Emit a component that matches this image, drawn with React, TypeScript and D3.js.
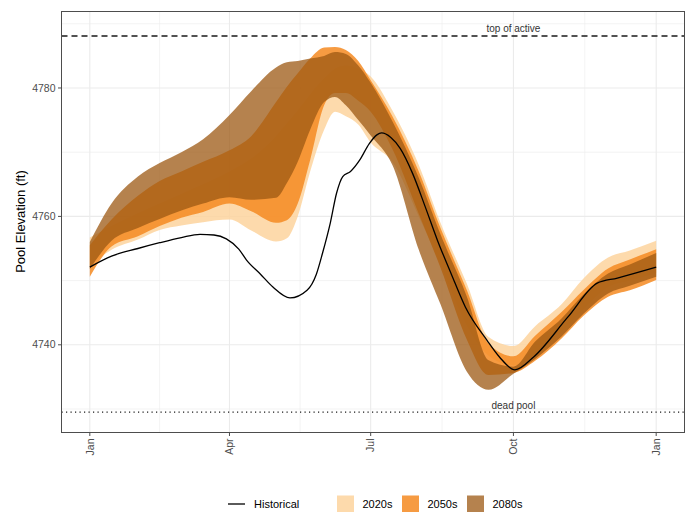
import React from 'react';
import * as d3 from 'd3';

// day-of-year sample points used by the projection ribbons
const bandDays = [0, 14, 31, 45, 59, 73, 90, 104, 120, 127, 134, 142, 151, 158, 165, 173, 181, 195, 212, 226, 243, 257, 273, 287, 304, 318, 334, 348, 365];

const lo2020 = [4752.3, 4754.8, 4756.4, 4757.9, 4758.6, 4759.1, 4759.5, 4757.8, 4756.1, 4756.6, 4760.0, 4767.0, 4773.5, 4776.3, 4775.6, 4774.3, 4771.5, 4768.5, 4760.0, 4752.5, 4743.0, 4738.3, 4736.8, 4738.5, 4742.0, 4745.5, 4749.0, 4750.0, 4751.2];
const hi2020 = [4756.7, 4758.5, 4760.5, 4762.0, 4763.5, 4765.0, 4767.0, 4769.0, 4772.5, 4774.5, 4776.5, 4779.0, 4781.5, 4783.0, 4783.5, 4783.0, 4781.8, 4776.5, 4768.0, 4759.0, 4749.5, 4741.2, 4739.8, 4742.9, 4746.3, 4750.3, 4753.6, 4754.7, 4756.2];

const lo2050 = [4750.6, 4755.3, 4756.9, 4758.5, 4759.8, 4760.7, 4762.0, 4760.8, 4759.0, 4759.4, 4762.0, 4768.8, 4777.3, 4779.2, 4779.2, 4778.0, 4776.3, 4770.5, 4760.4, 4752.0, 4740.8, 4735.3, 4735.6, 4737.5, 4741.0, 4744.5, 4747.5, 4748.5, 4750.1];
const hi2050 = [4755.5, 4759.5, 4763.2, 4765.5, 4767.0, 4768.5, 4770.3, 4772.5, 4777.8, 4780.2, 4782.3, 4784.6, 4786.3, 4786.4, 4785.9, 4784.2, 4781.2, 4775.6, 4767.0, 4758.2, 4748.5, 4740.2, 4738.2, 4741.4, 4745.1, 4748.5, 4751.9, 4753.3, 4754.9];

const lo2080 = [4751.8, 4756.2, 4758.2, 4759.6, 4760.9, 4762.0, 4763.0, 4762.6, 4762.9, 4765.2, 4768.5, 4773.5, 4777.8, 4778.6, 4777.3, 4775.0, 4772.6, 4768.0, 4754.8, 4746.3, 4735.8, 4733.0, 4735.5, 4737.8, 4741.3, 4744.8, 4748.0, 4749.2, 4750.6];
const hi2080 = [4756.0, 4762.0, 4766.2, 4768.3, 4770.0, 4772.0, 4775.8, 4779.5, 4783.2, 4784.0, 4784.2, 4784.6, 4785.0, 4785.6, 4785.3, 4783.5, 4780.8, 4774.8, 4766.0, 4757.2, 4747.5, 4737.6, 4736.6, 4740.5, 4744.1, 4747.8, 4751.1, 4752.5, 4754.3];

// historical trace
const histDays = [0, 14, 31, 45, 59, 71, 80, 88, 96, 101, 110, 118, 129, 140, 146, 150, 155, 159, 163, 168, 174, 180, 185, 188, 194, 200, 208, 216, 224, 233, 242, 256, 264, 274, 286, 308, 327, 340, 365];
const histVals = [4752.1, 4753.8, 4755.0, 4755.9, 4756.7, 4757.2, 4757.1, 4756.5, 4754.9, 4753.2, 4751.0, 4749.0, 4747.3, 4748.5, 4751.0, 4754.3, 4759.0, 4763.6, 4766.2, 4767.0, 4768.8, 4771.3, 4772.7, 4773.0, 4772.3, 4770.6, 4766.7, 4761.6, 4756.3, 4751.0, 4745.9, 4740.7, 4738.1, 4736.1, 4738.1, 4744.3, 4749.6, 4750.4, 4752.1];

const yTicks = [4740, 4760, 4780];
const yMinor = [4730, 4750, 4770, 4790];

const refLines = [
  { label: 'top of active', value: 4788.1, dash: '6,4' },
  { label: 'dead pool', value: 4729.5, dash: '1.2,3.3' },
];

const seriesNames = ['2020s', '2050s', '2080s'];
const seriesColors = ['#FDD49E', '#F48A21', '#9C5813'];
const seriesAlpha = [0.85, 0.85, 0.75];
const bands = [
  { lo: lo2020, hi: hi2020 },
  { lo: lo2050, hi: hi2050 },
  { lo: lo2080, hi: hi2080 },
];

const W = 689;
const H = 512;
const left = 61.5, right = 684.5, top = 11, bottom = 432;
const font = '"Liberation Sans", Arial, Helvetica, sans-serif';

const t0 = Date.UTC(2001, 0, 1);
const dayDate = (d: number) => new Date(t0 + d * 864e5);

export default function App() {
  const x = d3.scaleUtc()
    .domain([dayDate(-18.25), dayDate(365 + 18.25)])
    .range([left, right]);
  const y = d3.scaleLinear()
    .domain([4726.42, 4791.99])
    .range([bottom, top]);

  const xTicks = x.ticks(d3.utcMonth.every(3) as any);
  const xMinor = xTicks.slice(1).map((t, i) => new Date((t.getTime() + xTicks[i].getTime()) / 2));
  const fmt = d3.utcFormat('%b');

  const area = (lo: number[], hi: number[]) => d3.area<number>()
    .x((d) => x(dayDate(d)))
    .y0((_, i) => y(lo[i]))
    .y1((_, i) => y(hi[i]))
    .curve(d3.curveMonotoneX)(bandDays);

  const histLine = d3.line<number>()
    .x((d) => x(dayDate(d)))
    .y((_, i) => y(histVals[i]))
    .curve(d3.curveMonotoneX)(histDays);

  const octX = x(dayDate(273));

  // legend layout
  const legY = 504;
  const keyX = [337, 402, 467];

  return (
    <svg width={W} height={H} style={{ position: 'absolute', left: 0, top: 0, background: '#fff' }} fontFamily={font}>
      <rect width={W} height={H} fill="#fff" />
      {/* grid */}
      <g stroke="#EBEBEB">
        {yMinor.map((v) => <line key={'ym' + v} x1={left} x2={right} y1={y(v)} y2={y(v)} strokeWidth={0.6} />)}
        {xMinor.map((d, i) => <line key={'xm' + i} x1={x(d)} x2={x(d)} y1={top} y2={bottom} strokeWidth={0.6} />)}
        {yTicks.map((v) => <line key={'y' + v} x1={left} x2={right} y1={y(v)} y2={y(v)} strokeWidth={1.1} />)}
        {xTicks.map((d, i) => <line key={'x' + i} x1={x(d)} x2={x(d)} y1={top} y2={bottom} strokeWidth={1.1} />)}
      </g>

      {/* projection ribbons */}
      {bands.map((b, i) => (
        <path key={seriesNames[i]} d={area(b.lo, b.hi) || ''} fill={seriesColors[i]} fillOpacity={seriesAlpha[i]} />
      ))}

      {/* reference lines */}
      {refLines.map((r) => (
        <g key={r.label}>
          <line x1={left} x2={right} y1={y(r.value)} y2={y(r.value)} stroke="#1a1a1a" strokeWidth={1.3} strokeDasharray={r.dash} />
          <text x={octX} y={y(r.value) - 3.5} textAnchor="middle" fontSize={10} fill="#333">{r.label}</text>
        </g>
      ))}

      <path d={histLine || ''} fill="none" stroke="#000" strokeWidth={1.3} />

      {/* panel border */}
      <rect x={left} y={top + 0.5} width={right - left} height={bottom - top} fill="none" stroke="#4d4d4d" strokeWidth={1} />

      {/* y axis */}
      {yTicks.map((v) => (
        <g key={'yt' + v}>
          <line x1={left - 3.5} x2={left} y1={y(v)} y2={y(v)} stroke="#4d4d4d" />
          <text x={left - 6} y={y(v)} dy="0.35em" textAnchor="end" fontSize={10.5} fill="#4d4d4d">{v}</text>
        </g>
      ))}
      <text transform={`translate(20,${(top + bottom) / 2}) rotate(-90)`} textAnchor="middle" dy="0.35em" fontSize={13} fill="#000">Pool Elevation (ft)</text>

      {/* x axis */}
      {xTicks.map((d, i) => (
        <g key={'xt' + i}>
          <line x1={x(d)} x2={x(d)} y1={bottom + 0.5} y2={bottom + 4} stroke="#4d4d4d" />
          <text transform={`translate(${x(d)},${bottom + 6.5}) rotate(-90)`} textAnchor="end" dy="0.35em" fontSize={10.5} fill="#4d4d4d">{fmt(d)}</text>
        </g>
      ))}

      {/* legend */}
      <line x1={228} x2={245} y1={legY} y2={legY} stroke="#000" strokeWidth={1.3} />
      <text x={254} y={legY} dy="0.35em" fontSize={11} fill="#000">Historical</text>
      {seriesNames.map((s, i) => (
        <g key={'lg' + s}>
          <rect x={keyX[i]} y={legY - 8.5} width={17} height={17} fill={seriesColors[i]} fillOpacity={seriesAlpha[i]} />
          <text x={keyX[i] + 25.5} y={legY} dy="0.35em" fontSize={11} fill="#000">{s}</text>
        </g>
      ))}
    </svg>
  );
}
